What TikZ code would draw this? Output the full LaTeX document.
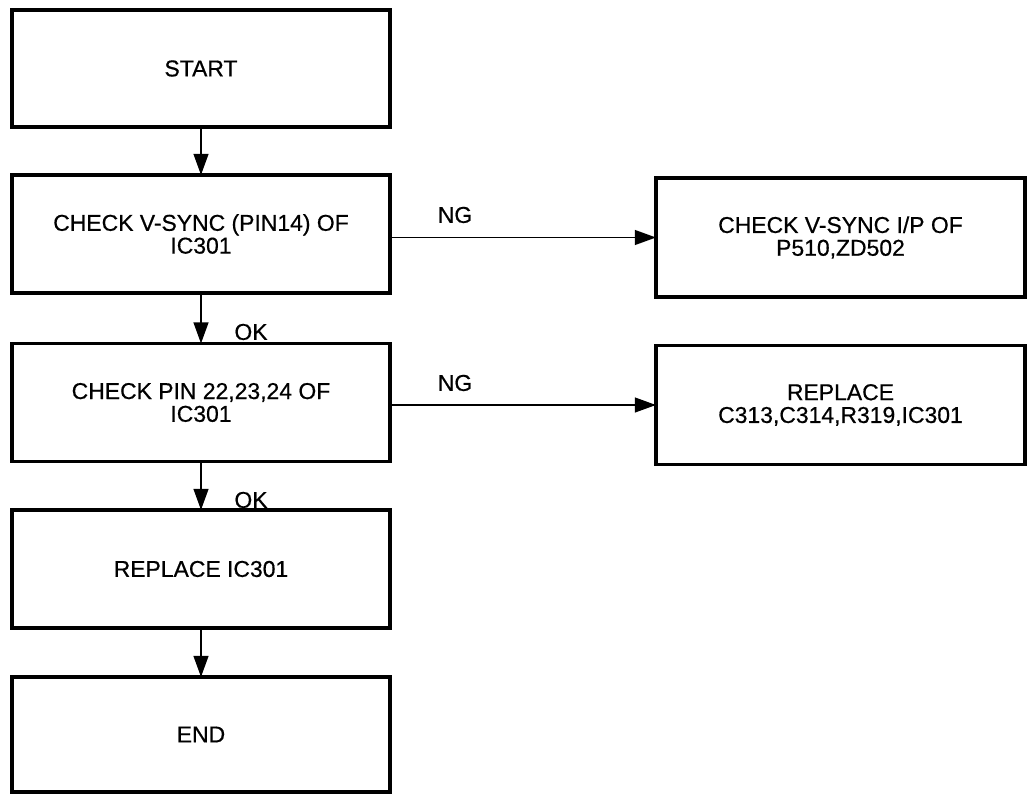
\documentclass[tikz,border=0pt]{standalone}
\usepackage{fontspec}
\setmainfont{Liberation Sans}[FakeBold=0.6]
\usetikzlibrary{positioning,arrows.meta}

\begin{document}
\begin{tikzpicture}[x=0.025cm, y=-0.025cm]

  % Styles
  \tikzset{
    every node/.style={font=\fontsize{16.3}{16.2}\selectfont},
    box/.style={draw, line width=2.8pt, align=center, inner sep=0pt, outer sep=0pt,
      minimum width=9.45cm, minimum height=2.95cm},
    sidebox/.style={box, minimum width=9.225cm, minimum height=2.975cm},
    flow/.style={line width=1.4pt, -{Triangle[length=15pt, width=10.5pt]}},
    tag/.style={inner sep=0pt}
  }

  \useasboundingbox (0,0) rectangle (1029,794);

  % Main column
  \node[box, minimum height=2.925cm] (start) at (201, 68.5) {START};
  \node[box] (vsync) at (201, 234) {CHECK V-SYNC (PIN14) OF\\IC301};
  \node[box] (pins) at (201, 402.5) {CHECK PIN 22,23,24 OF\\IC301};
  \node[box] (replic) at (201, 569) {REPLACE IC301};
  \node[box, minimum height=2.875cm] (finish) at (201, 734.5) {END};

  % NG branches
  \node[sidebox] (vsyncin) at (840.5, 237.5) {CHECK V-SYNC I/P OF\\P510,ZD502};
  \node[sidebox] (parts) at (840.5, 405) {REPLACE\\C313,C314,R319,IC301};

  % Connectors
  \draw[flow] (start) -- (vsync);
  \draw[flow] (vsync) -- (pins);
  \draw[flow] (pins) -- (replic);
  \draw[flow] (replic) -- (finish);
  \draw[flow] (vsync.east |- vsyncin.west) -- (vsyncin.west);
  \draw[flow] (pins.east |- parts.west) -- (parts.west);

  % Labels
  \node[tag] (ng1) at (455, 215) {NG};
  \node[tag] (ok1) at (251, 332) {OK};
  \node[tag] (ng2) at (455, 383) {NG};
  \node[tag] (ok2) at (251, 500) {OK};

\end{tikzpicture}
\end{document}
